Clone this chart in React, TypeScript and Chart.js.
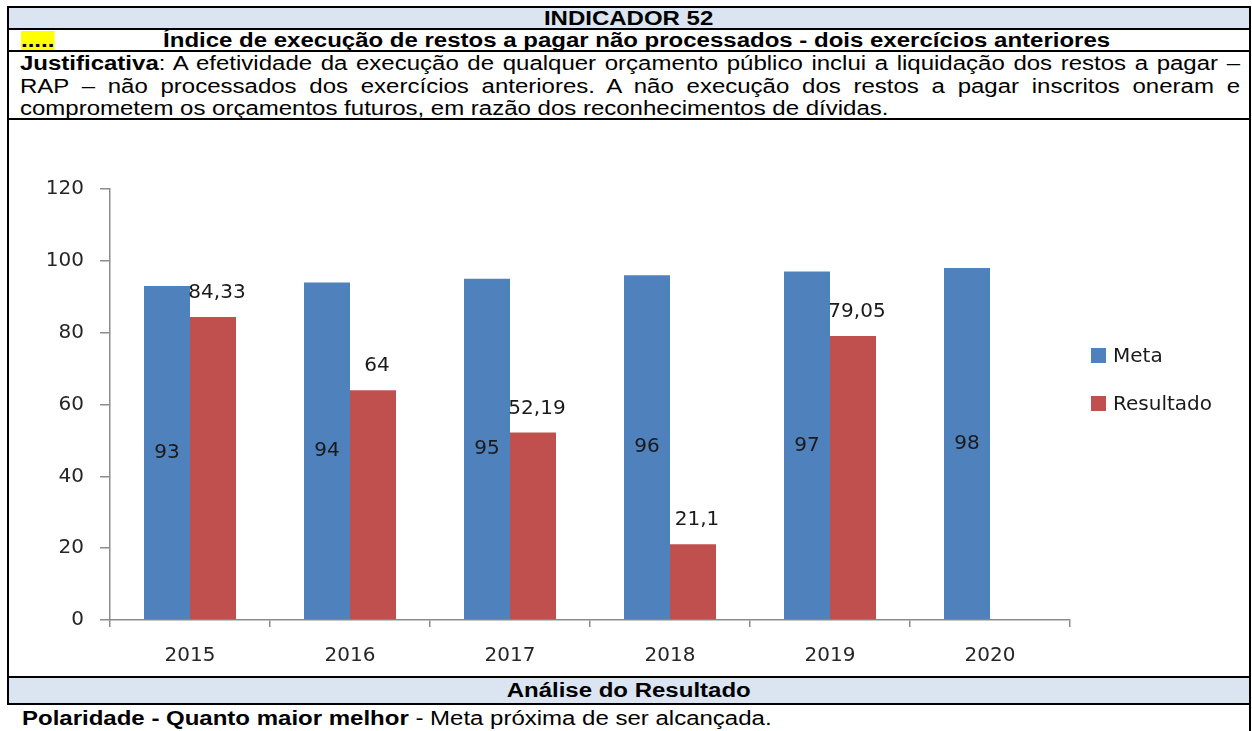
import React, { useEffect, useRef } from 'react';
import { Chart, registerables } from 'chart.js';

Chart.register(...registerables);

// ---------- data ----------
const categories = ['2015', '2016', '2017', '2018', '2019', '2020'];
const metaValues = [93, 94, 95, 96, 97, 98];
const resultadoValues: (number | null)[] = [84.33, 64, 52.19, 21.1, 79.05, null];
const seriesNames = ['Meta', 'Resultado'];
const yTicks = [0, 20, 40, 60, 80, 100, 120];

const headerText = 'INDICADOR 52';
const titleText = 'Índice de execução de restos a pagar não processados - dois exercícios anteriores';
const justLine1 = ': A efetividade da execução de qualquer orçamento público inclui a liquidação dos restos a pagar –';
const justLine2 = 'RAP – não processados dos exercícios anteriores. A não execução dos restos a pagar inscritos oneram e';
const justLine3 = 'comprometem os orçamentos futuros, em razão dos reconhecimentos de dívidas.';
const analiseText = 'Análise do Resultado';
const polaridadeBold = 'Polaridade - Quanto maior melhor';
const polaridadeText = ' - Meta próxima de ser alcançada.';

// ---------- styles ----------
const COLORS = ['#4F81BD', '#C0504D'];
const CHART_FONT = "'DejaVu Sans', sans-serif";
const TEXT_FONT = "'Liberation Sans', Arial, sans-serif";
const SX = 1.2;
const FS = 20;
const BAND = '#DBE5F1';

const fmt = (v: number) => String(v).replace('.', ',');

const labelPlugin = {
  id: 'barLabels',
  afterDatasetsDraw(chart: any) {
    const ctx = chart.ctx;
    ctx.save();
    ctx.font = `20px ${CHART_FONT}`;
    ctx.fillStyle = '#1a1a1a';
    ctx.textAlign = 'center';
    ctx.textBaseline = 'middle';
    chart.data.datasets.forEach((ds: any, di: number) => {
      const meta = chart.getDatasetMeta(di);
      meta.data.forEach((el: any, i: number) => {
        const v = ds.data[i];
        if (v === null || v === undefined) return;
        const p = el.getProps(['x', 'y', 'base'], true);
        if (di === 0) ctx.fillText(fmt(v), p.x, (p.y + p.base) / 2);
        else ctx.fillText(fmt(v), p.x + 4, p.y - 24);
      });
    });
    ctx.restore();
  },
};

const legendPlugin = {
  id: 'sideLegend',
  afterDraw(chart: any) {
    const ctx = chart.ctx;
    const { right, top, bottom } = chart.chartArea;
    const items = chart.data.datasets;
    const cy = (top + bottom) / 2 - 25;
    const spacing = 48;
    ctx.save();
    ctx.font = `20px ${CHART_FONT}`;
    ctx.textAlign = 'left';
    ctx.textBaseline = 'middle';
    items.forEach((ds: any, i: number) => {
      const y = cy + (i - (items.length - 1) / 2) * spacing;
      ctx.fillStyle = ds.backgroundColor;
      ctx.fillRect(right + 21, y - 7.5, 15, 15);
      ctx.fillStyle = '#1a1a1a';
      ctx.fillText(ds.label, right + 43, y + 1);
    });
    ctx.restore();
  },
};

function BarChart() {
  const ref = useRef<HTMLCanvasElement | null>(null);
  useEffect(() => {
    if (!ref.current) return;
    const chart = new Chart(ref.current, {
      type: 'bar',
      data: {
        labels: categories,
        datasets: [
          { label: seriesNames[0], data: metaValues, backgroundColor: COLORS[0], borderWidth: 0, categoryPercentage: 0.575, barPercentage: 1 },
          { label: seriesNames[1], data: resultadoValues, backgroundColor: COLORS[1], borderWidth: 0, categoryPercentage: 0.575, barPercentage: 1 },
        ],
      },
      options: {
        animation: false,
        responsive: true,
        maintainAspectRatio: false,
        layout: { padding: { left: 31, right: 179, top: 69, bottom: 11 } },
        plugins: { legend: { display: false }, tooltip: { enabled: false } },
        scales: {
          x: {
            grid: { offset: true, drawOnChartArea: false, drawTicks: true, tickLength: 7, color: '#8c8c8c', lineWidth: 1.5 },
            border: { color: '#8c8c8c', width: 1.5 },
            ticks: { padding: 17, color: '#262626', font: { size: 20, family: CHART_FONT } },
            afterFit: (s: any) => { s.height = 45; },
          },
          y: {
            min: 0,
            max: 120,
            afterBuildTicks: (s: any) => { s.ticks = yTicks.map((v) => ({ value: v })); },
            grid: { drawOnChartArea: false, drawTicks: true, tickLength: 10, color: '#8c8c8c', lineWidth: 1.5 },
            border: { color: '#8c8c8c', width: 1.5 },
            ticks: { padding: 16, color: '#262626', font: { size: 20, family: CHART_FONT } },
            afterFit: (s: any) => { s.width = 70; },
          },
        },
      },
      plugins: [labelPlugin, legendPlugin],
    });
    return () => chart.destroy();
  }, []);
  return (
    <div style={{ position: 'absolute', left: 9, top: 120, width: 1240, height: 556 }}>
      <canvas ref={ref} />
    </div>
  );
}

const abs = (left: number, top: number, width: number, height: number, extra: React.CSSProperties = {}): React.CSSProperties => ({
  position: 'absolute', left, top, width, height, ...extra,
});

const stretch = (origin: string): React.CSSProperties => ({
  display: 'inline-block', transform: `scaleX(${SX})`, transformOrigin: origin, whiteSpace: 'nowrap',
});

export default function App() {
  const hLines = [6, 28, 50, 118, 676, 703];
  const textBase: React.CSSProperties = { fontFamily: TEXT_FONT, fontSize: FS, color: '#000' };
  const justW = 1220 / SX;
  const justStyle = (top: number, justify: boolean): React.CSSProperties => ({
    ...abs(20, top, justW, 22),
    lineHeight: '22px',
    transform: `scaleX(${SX})`,
    transformOrigin: '0 0',
    ...(justify ? { textAlign: 'justify', textAlignLast: 'justify' } : { whiteSpace: 'nowrap' }),
  } as React.CSSProperties);
  return (
    <div style={{ position: 'absolute', left: 0, top: 0, width: 1252, height: 731, overflow: 'hidden', background: '#fff', ...textBase }}>
      {/* bands */}
      <div style={abs(9, 8, 1240, 20, { background: BAND })} />
      <div style={abs(9, 678, 1240, 25, { background: BAND })} />

      {/* header */}
      <div style={abs(9, 8, 1240, 20, { textAlign: 'center', lineHeight: '20px', fontWeight: 'bold' })}>
        <span style={stretch('50% 50%')}>{headerText}</span>
      </div>

      {/* title row */}
      <div style={abs(21, 31, 40, 19, { lineHeight: '19px', fontWeight: 'bold' })}>
        <span style={{ ...stretch('0 0'), background: '#FFFF00', height: 19, lineHeight: '19px' }}>.....</span>
      </div>
      <div style={abs(25, 30, 1224, 20, { textAlign: 'center', lineHeight: '20px', fontWeight: 'bold' })}>
        <span style={stretch('50% 50%')}>{titleText}</span>
      </div>

      {/* justification */}
      <div style={justStyle(52, true)}>
        <b>Justificativa</b>{justLine1}
      </div>
      <div style={justStyle(75, true)}>{justLine2}</div>
      <div style={justStyle(97, false)}>{justLine3}</div>

      {/* chart */}
      <BarChart />

      {/* análise */}
      <div style={abs(9, 678, 1240, 25, { textAlign: 'center', lineHeight: '25px', fontWeight: 'bold' })}>
        <span style={stretch('50% 50%')}>{analiseText}</span>
      </div>

      {/* polaridade */}
      <div style={abs(22, 706, 1200, 24, { lineHeight: '24px' })}>
        <span style={stretch('0 0')}><b>{polaridadeBold}</b>{polaridadeText}</span>
      </div>

      {/* borders */}
      {hLines.map((y) => (
        <div key={y} style={abs(7, y, 1244, 2, { background: '#000' })} />
      ))}
      <div style={abs(7, 6, 2, 699, { background: '#000' })} />
      <div style={abs(1249, 6, 2, 725, { background: '#000' })} />
    </div>
  );
}
